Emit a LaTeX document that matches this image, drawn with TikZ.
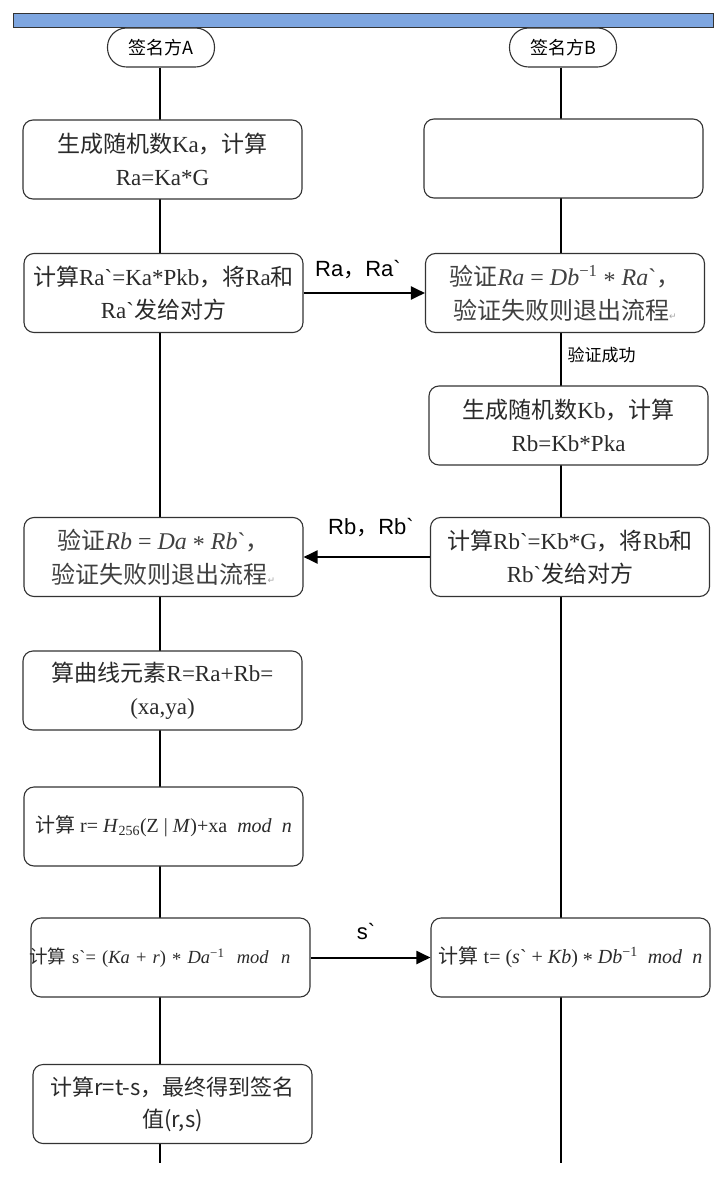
\documentclass[tikz,border=0pt]{standalone}
\usepackage{fontspec}
\setmainfont{Liberation Serif}[Ligatures=TeXOff]
\newfontfamily\cjk{Noto Sans CJK SC}[Ligatures=TeXOff]
\newfontfamily\asans{Liberation Sans}[Ligatures=TeXOff]
\newfontfamily\dejavu{DejaVu Sans}
\newcommand\zh[1]{{\cjk #1}}
\newcommand\bq{{\char"60}}
\newcommand\mv[1]{\textit{#1}}
\newcommand\st{\raisebox{-0.3ex}{*}}
\newcommand\inv{\textsuperscript{−1}}
\newcommand\ret{{\dejavu\fontsize{9}{9}\selectfont\color{gray!70}↵}}
\usetikzlibrary{arrows.meta}
\definecolor{barblue}{HTML}{7EA6E0}
\definecolor{edge}{HTML}{333333}
\definecolor{txt}{HTML}{2A2A2A}
\definecolor{vtxt}{HTML}{404040}
\begin{document}
\begin{tikzpicture}[x=1pt,y=-1pt,
 box/.style={draw=edge, line width=1.1pt, rounded corners=10pt, fill=white,
   minimum width=279pt, minimum height=79pt, inner sep=1pt, align=center,
   text=txt, font=\fontsize{23}{33}\selectfont},
 vbox/.style={box, text=vtxt, font=\fontsize{24}{34}\selectfont},
 mbox/.style={box, font=\fontsize{19}{22}\selectfont},
 sbox/.style={box, font=\cjk\fontsize{22}{32}\selectfont},
 pill/.style={draw=edge, line width=1.1pt, rounded corners=19pt, fill=white,
   minimum width=107pt, minimum height=39pt, inner sep=0pt,
   font=\cjk\fontsize{18}{22}\selectfont},
 life/.style={line width=1.6pt, black},
 msg/.style={line width=2pt, -{Triangle[length=14pt,width=13pt]}},
 lbl/.style={font=\asans\fontsize{22}{24}\selectfont, inner sep=0pt}]
\useasboundingbox (0,0) rectangle (722,1182);
\node[draw=edge, fill=barblue, line width=1pt, minimum width=700pt,
  minimum height=14pt, inner sep=0pt] (bar) at (363,21) {};
\node[pill] (pA) at (161,47.5) {签名方A};
\node[pill] (pB) at (563,47.5) {签名方B};
\coordinate (eA) at (160,1163);
\coordinate (eB) at (561,1163);
\draw[life] (pA.south -| eA) -- (eA);
\draw[life] (pB.south -| eB) -- (eB);
% party A
\node[box] (A1) at (162.5,159.5) {\zh{生成随机数}Ka\zh{，计算}\\Ra=Ka*G};
\node[box] (A2) at (163.5,293) {\zh{计算}Ra\bq=Ka*Pkb\zh{，将}Ra\zh{和}\\Ra\bq\zh{发给对方}};
\node[vbox] (A3) at (163.5,557) {\zh{验证}\mv{Rb} = \mv{Da} \st{} \mv{Rb}\bq\zh{，}\\\zh{验证失败则退出流程}\ret};
\node[box] (A4) at (162.5,690.5) {\zh{算曲线元素}R=Ra+Rb=\\(xa,ya)};
\node[mbox, font=\fontsize{20}{22}\selectfont] (A5) at (163.5,826.5) {\zh{计算} r= \mv{H}\textsubscript{256}(Z | \mv{M})+xa \ \mv{mod}\ \ \mv{n}};
\node[mbox, font=\fontsize{18.5}{22}\selectfont, text width=277pt, align=left, inner sep=0pt] (A6) at (170.5,957.5) {\hspace*{-3pt}\zh{计算} s\bq= (\mv{Ka} + \mv{r}) \st{} \mv{Da}\inv\ \ \mv{mod}\ \ \mv{n}};
\node[sbox] (A7) at (172.5,1104) {计算r=t-s，最终得到签名\\值(r,s)};
% party B
\node[box] (B1) at (563.5,158.5) {};
\node[vbox] (B2) at (565,293) {\zh{验证}\mv{Ra} = \mv{Db}\inv{} \st{} \mv{Ra}\bq\zh{，}\\\zh{验证失败则退出流程}\ret};
\node[box] (B3) at (568.5,425.5) {\zh{生成随机数}Kb\zh{，计算}\\Rb=Kb*Pka};
\node[box] (B4) at (570,557) {\zh{计算}Rb\bq=Kb*G\zh{，将}Rb\zh{和}\\Rb\bq\zh{发给对方}};
\node[mbox, font=\fontsize{20}{22}\selectfont] (B5) at (570.5,957.5) {\zh{计算} t= (\mv{s}\bq{} + \mv{Kb}) \st{} \mv{Db}\inv\ \ \mv{mod}\ \ \mv{n}};
\node[font=\cjk\fontsize{17}{18}\selectfont, anchor=west] (ok) at (564,355) {验证成功};
% messages
\draw[msg] (A2.east) -- (B2.west);
\draw[msg] (B4.west) -- (A3.east);
\draw[msg] (A6.east) -- (B5.west);
\node[lbl] (m1) at (358,270) {Ra\zh{，}Ra\bq};
\node[lbl] (m2) at (371,528) {Rb\zh{，}Rb\bq};
\node[lbl] (m3) at (366,931) {s\bq};
\end{tikzpicture}
\end{document}
